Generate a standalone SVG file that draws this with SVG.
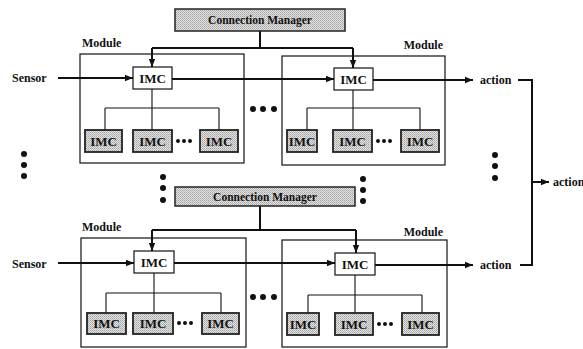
<svg xmlns="http://www.w3.org/2000/svg" width="583" height="349" viewBox="0 0 583 349">
<style>
text{font-family:"Liberation Serif","Times New Roman",serif;font-weight:bold;fill:#111}
.mod{fill:#fff;stroke:#111;stroke-width:1.2}
.imc{fill:#fff;stroke:#111;stroke-width:1.2}
.sub{fill:url(#stip);stroke:#222;stroke-width:1.8}
.cm{fill:url(#stip);stroke:#222;stroke-width:1.5}
.t{font-size:13px;text-anchor:middle}
.lab{font-size:12px}
.cmt{font-size:11.5px;text-anchor:middle}
.thick{fill:none;stroke:#111;stroke-width:2}
.thin{fill:none;stroke:#111;stroke-width:1.1}
.dot{fill:#111}
</style>
<defs>
<pattern id="stip" width="2" height="2" patternUnits="userSpaceOnUse">
<rect width="2" height="2" fill="#e2e2e2"/>
<rect width="1" height="1" fill="#a4a4a4"/>
<rect x="1" y="1" width="1" height="1" fill="#b8b8b8"/>
</pattern>
<marker id="ah" viewBox="0 0 10 10" refX="10" refY="5" markerWidth="8" markerHeight="8" markerUnits="userSpaceOnUse" orient="auto">
<path d="M0,1 L10,5 L0,9 Z" fill="#111"/>
</marker>
</defs>

<g id="module-top-left">
<rect class="mod" x="80" y="54" width="164" height="109"/>
<text class="lab" x="82" y="47">Module</text>
</g>
<g id="module-top-right">
<rect class="mod" x="282" y="56" width="163" height="109"/>
<text class="lab" x="443" y="49" text-anchor="end">Module</text>
</g>
<g id="module-bottom-left">
<rect class="mod" x="81" y="238" width="165" height="109"/>
<text class="lab" x="82" y="231">Module</text>
</g>
<g id="module-bottom-right">
<rect class="mod" x="282" y="240" width="165" height="107"/>
<text class="lab" x="443" y="236" text-anchor="end">Module</text>
</g>

<g id="connectors">
<path class="thick" d="M260,31 V48"/>
<path class="thick" d="M152,48 H353"/>
<path class="thick" d="M152,48 V67" marker-end="url(#ah)"/>
<path class="thick" d="M353,48 V68" marker-end="url(#ah)"/>
<path class="thick" d="M58,78 H133" marker-end="url(#ah)"/>
<path class="thick" d="M172,79 H334" marker-end="url(#ah)"/>
<path class="thick" d="M373,80 H473" marker-end="url(#ah)"/>
<path class="thin" d="M152,89 V130 M105,108 H219 M105,108 V130 M219,108 V130"/>
<path class="thin" d="M353,90 V130 M307,108 H420 M307,108 V130 M420,108 V130"/>
<path class="thick" d="M518,80 H532 V265 H520"/>
<path class="thick" d="M532,182 H549" marker-end="url(#ah)"/>
<path class="thick" d="M260,206 V230"/>
<path class="thick" d="M152,230 H356"/>
<path class="thick" d="M152,230 V251" marker-end="url(#ah)"/>
<path class="thick" d="M356,230 V253" marker-end="url(#ah)"/>
<path class="thick" d="M58,263 H134" marker-end="url(#ah)"/>
<path class="thick" d="M174,263 H335" marker-end="url(#ah)"/>
<path class="thick" d="M375,265 H473" marker-end="url(#ah)"/>
<path class="thin" d="M154,273 V313 M106,293 H221 M106,293 V313 M221,293 V313"/>
<path class="thin" d="M355,275 V313 M308,295 H422 M308,295 V313 M422,295 V313"/>
</g>

<g id="cm-top">
<rect class="cm" x="175" y="9" width="170" height="22"/>
<text class="cmt" x="260" y="24">Connection Manager</text>
</g>
<g id="cm-bottom">
<rect class="cm" x="175" y="187" width="180" height="19"/>
<text class="cmt" x="265" y="201">Connection Manager</text>
</g>

<g id="imc-top-left">
<rect class="imc" x="133" y="67" width="39" height="22"/>
<text class="t" x="152.5" y="83">IMC</text>
</g>
<g id="imc-top-right">
<rect class="imc" x="334" y="68" width="39" height="22"/>
<text class="t" x="353.5" y="84">IMC</text>
</g>
<g id="imc-bottom-left">
<rect class="imc" x="134" y="251" width="40" height="22"/>
<text class="t" x="154" y="267">IMC</text>
</g>
<g id="imc-bottom-right">
<rect class="imc" x="335" y="253" width="40" height="22"/>
<text class="t" x="355" y="269">IMC</text>
</g>

<g id="sub-top-left">
<rect class="sub" x="85" y="130" width="37" height="22"/><text class="t" x="103.5" y="146">IMC</text>
<rect class="sub" x="133" y="130" width="39" height="22"/><text class="t" x="152.5" y="146">IMC</text>
<circle class="dot" cx="178" cy="141" r="2"/><circle class="dot" cx="184" cy="141" r="2"/><circle class="dot" cx="190" cy="141" r="2"/>
<rect class="sub" x="200" y="130" width="38" height="22"/><text class="t" x="219" y="146">IMC</text>
</g>
<g id="sub-top-right">
<rect class="sub" x="287" y="130" width="30" height="22"/><text class="t" x="302" y="146">IMC</text>
<rect class="sub" x="333" y="130" width="39" height="22"/><text class="t" x="352.5" y="146">IMC</text>
<circle class="dot" cx="378" cy="141" r="2"/><circle class="dot" cx="384" cy="141" r="2"/><circle class="dot" cx="390" cy="141" r="2"/>
<rect class="sub" x="401" y="130" width="38" height="22"/><text class="t" x="420" y="146">IMC</text>
</g>
<g id="sub-bottom-left">
<rect class="sub" x="87" y="313" width="39" height="21"/><text class="t" x="106.5" y="328">IMC</text>
<rect class="sub" x="133" y="313" width="40" height="21"/><text class="t" x="153" y="328">IMC</text>
<circle class="dot" cx="179" cy="323" r="2"/><circle class="dot" cx="185" cy="323" r="2"/><circle class="dot" cx="191" cy="323" r="2"/>
<rect class="sub" x="202" y="313" width="37" height="21"/><text class="t" x="220.5" y="328">IMC</text>
</g>
<g id="sub-bottom-right">
<rect class="sub" x="287" y="313" width="32" height="22"/><text class="t" x="303" y="329">IMC</text>
<rect class="sub" x="335" y="313" width="38" height="22"/><text class="t" x="354" y="329">IMC</text>
<circle class="dot" cx="379" cy="324" r="2"/><circle class="dot" cx="385" cy="324" r="2"/><circle class="dot" cx="391" cy="324" r="2"/>
<rect class="sub" x="402" y="313" width="37" height="22"/><text class="t" x="420.5" y="329">IMC</text>
</g>

<g id="labels">
<text class="lab" x="12" y="82">Sensor</text>
<text class="lab" x="12" y="268">Sensor</text>
<text class="lab" x="480" y="84">action</text>
<text class="lab" x="480" y="269">action</text>
<text class="lab" x="553" y="186">action</text>
</g>

<g id="ellipses">
<circle class="dot" cx="253" cy="109" r="3"/><circle class="dot" cx="263" cy="109" r="3"/><circle class="dot" cx="274" cy="109" r="3"/>
<circle class="dot" cx="253" cy="297" r="3"/><circle class="dot" cx="263" cy="297" r="3"/><circle class="dot" cx="274" cy="297" r="3"/>
<circle class="dot" cx="24" cy="154" r="3"/><circle class="dot" cx="24" cy="165" r="3"/><circle class="dot" cx="24" cy="176" r="3"/>
<circle class="dot" cx="163" cy="177" r="3"/><circle class="dot" cx="163" cy="188" r="3"/><circle class="dot" cx="163" cy="200" r="3"/>
<circle class="dot" cx="363" cy="179" r="3"/><circle class="dot" cx="363" cy="190" r="3"/><circle class="dot" cx="363" cy="201" r="3"/>
<circle class="dot" cx="495" cy="155" r="3"/><circle class="dot" cx="495" cy="166" r="3"/><circle class="dot" cx="495" cy="178" r="3"/>
</g>
</svg>
